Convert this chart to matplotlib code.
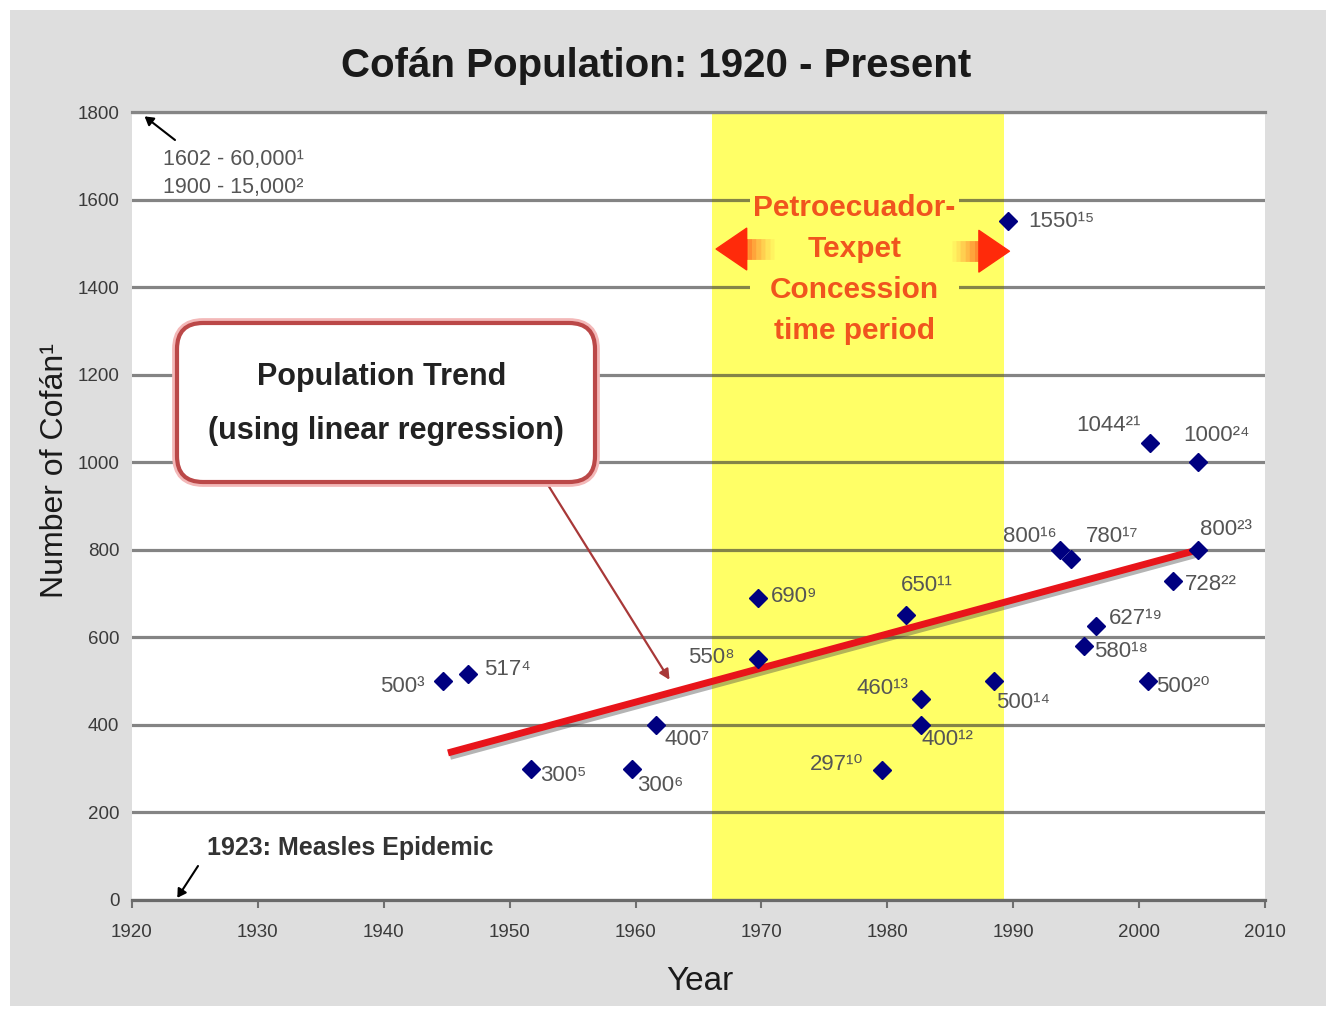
import matplotlib
matplotlib.use("Agg")
import matplotlib.pyplot as plt
from matplotlib.patches import Rectangle, FancyBboxPatch
from matplotlib import patheffects as pe
from matplotlib.transforms import IdentityTransform

plt.rcParams['font.family'] = ['Liberation Sans', 'DejaVu Sans']

# ---------------- data ----------------
ref_numbers = [3, 4, 5, 6, 7, 8, 9, 10, 11, 12, 13, 14, 15, 16, 17, 18, 19, 20, 21, 22, 23, 24]
years = [1944.7, 1946.7, 1951.7, 1959.7, 1961.6, 1969.7, 1969.7, 1979.6, 1981.5, 1982.7, 1982.7,
         1988.5, 1989.6, 1993.7, 1994.6, 1995.6, 1996.6, 2000.7, 2000.9, 2002.7, 2004.7, 2004.7]
population = [500, 517, 300, 300, 400, 550, 690, 297, 650, 400, 460,
              500, 1550, 800, 780, 580, 627, 500, 1044, 728, 800, 1000]
trend_years = [1945.1, 2004.7]
trend_values = [336, 800]
concession_start, concession_end = 1966.1, 1989.3
x_ticks = list(range(1920, 2011, 10))
y_ticks = list(range(0, 1801, 200))

# label placement (pixel offsets from the marker, alignment)
label_offsets = [(-18, -5, 'right'), (16, 4, 'left'), (9, -7, 'left'), (5, -17, 'left'),
                 (9, -15, 'left'), (-23, 2, 'right'), (13, 1, 'left'), (-19, 5, 'right'),
                 (-5, 30, 'left'), (0, -15, 'left'), (-13, 10, 'right'), (2, -21, 'left'),
                 (20, 0, 'left'), (-3, 13, 'right'), (15, 22, 'left'), (10, -5, 'left'),
                 (13, 7, 'left'), (8, -5, 'left'), (-10, 17, 'right'), (12, -3, 'left'),
                 (2, 20, 'left'), (-15, 27, 'left')]

SUP = str.maketrans("0123456789", "⁰¹²³⁴⁵⁶⁷⁸⁹")
def sup(n):
    return str(n).translate(SUP)

W, H = 1332, 1017
fig = plt.figure(figsize=(W / 100, H / 100), dpi=100)
fig.patch.set_facecolor('white')
PX = IdentityTransform()

# gray panel
fig.add_artist(Rectangle((10, 11), 1316, 996, transform=PX, facecolor='#dedede',
                         edgecolor='none', zorder=-10))

ax = fig.add_axes([132 / W, 1 - 900 / H, (1265 - 132) / W, (900 - 112) / H])
ax.set_facecolor('white')
ax.set_xlim(1920, 2010)
ax.set_ylim(0, 1800)

ax.axvspan(concession_start, concession_end, color='#ffff66', zorder=0.1, lw=0)

ax.set_axisbelow(True)
ax.yaxis.grid(True, color='#333333', alpha=0.6, lw=2.3)
ax.set_xticks(x_ticks)
ax.set_yticks(y_ticks)
ax.tick_params(axis='x', length=6, width=1.5, color='#707070', pad=11, labelsize=13.5,
               labelcolor='#3a3a3a')
ax.tick_params(axis='y', length=0, pad=9, labelsize=13.5, labelcolor='#3a3a3a')
for s in ['left', 'right']:
    ax.spines[s].set_visible(False)
ax.spines['bottom'].set_color('#6a6a6a')
ax.spines['bottom'].set_linewidth(2.3)
ax.spines['top'].set_color('#858585')
ax.spines['top'].set_linewidth(2.3)

# trend line with shadow
ax.plot(trend_years, trend_values, color='#e8141a', lw=5, solid_capstyle='butt', zorder=3,
        path_effects=[pe.SimpleLineShadow(offset=(1.5, -2.5), shadow_color='#444444', alpha=0.4),
                      pe.Normal()])

# data points
ax.plot(years, population, linestyle='none', marker='D', markersize=9.5,
        color='#000080', zorder=4)

for yr, val, ref, (dx, dy, ha) in zip(years, population, ref_numbers, label_offsets):
    ax.annotate(f"{val}{sup(ref)}", xy=(yr, val), xytext=(dx, dy), textcoords='offset pixels',
                ha=ha, va='center', fontsize=16, color='#555555', zorder=5)

# concession annotation
ax.text(1977.4, 1440, "Petroecuador-\nTexpet\nConcession\ntime period", ha='center',
        va='center', multialignment='center', fontsize=21.5, fontweight='bold',
        color='#f0541e', linespacing=1.6, zorder=4,
        bbox=dict(boxstyle='square,pad=0.1', fc='#ffff66', ec='none'))

# double-ended arrows with fading tails
def fading_arrow(tip_x, base_x, tail_x, y):
    ax.annotate('', xy=(tip_x, y), xytext=(base_x, y),
                arrowprops=dict(arrowstyle='simple,head_length=1.1,head_width=1.5,tail_width=0.8',
                                color='#ff2a0a', shrinkA=0, shrinkB=0, mutation_scale=20),
                zorder=5)
    n = 8
    for i in range(n):
        x0 = base_x + (tail_x - base_x) * i / n
        x1 = base_x + (tail_x - base_x) * (i + 1) / n
        ax.plot([x0, x1], [y, y], color='#ff3a0a', lw=15, alpha=0.85 * (1 - i / n) ** 1.3,
                solid_capstyle='butt', zorder=4.9)

fading_arrow(1966.4, 1968.2, 1971.0, 1487)
fading_arrow(1989.7, 1987.9, 1985.1, 1482)

# early population note
ax.annotate('', xy=(1921, 1790), xytext=(175, H - 140), textcoords='figure pixels',
            arrowprops=dict(arrowstyle='-|>,head_length=0.5,head_width=0.3', color='black',
                            lw=1.5, shrinkA=0, shrinkB=0), annotation_clip=False)
fig.text(163, H - 160, "1602 - 60,000" + sup(1), transform=PX, ha='left', va='center',
         fontsize=15.5, color='#555555')
fig.text(163, H - 188, "1900 - 15,000" + sup(2), transform=PX, ha='left', va='center',
         fontsize=15.5, color='#555555')

# measles note
ax.annotate('', xy=(1923.6, 5), xytext=(198, H - 866), textcoords='figure pixels',
            arrowprops=dict(arrowstyle='-|>,head_length=0.5,head_width=0.3', color='black',
                            lw=1.5, shrinkA=0, shrinkB=0), annotation_clip=False)
fig.text(207, H - 848, "1923: Measles Epidemic", transform=PX, ha='left', va='center',
         fontsize=18, fontweight='bold', color='#333333')

# callout box
ax.annotate('', xy=(1962.7, 503), xytext=(548, H - 485), textcoords='figure pixels',
            arrowprops=dict(arrowstyle='-|>,head_length=0.6,head_width=0.3', color='#a83838',
                            lw=1.6, shrinkA=0, shrinkB=0), zorder=6)
fig.add_artist(FancyBboxPatch((177, H - 482), 418, 159, boxstyle='round,pad=0,rounding_size=26',
                              transform=PX, fc='white', ec='#f3b8b8', lw=7, zorder=5))
fig.add_artist(FancyBboxPatch((177, H - 482), 418, 159, boxstyle='round,pad=0,rounding_size=26',
                              transform=PX, fc='white', ec='#bb4848', lw=3, zorder=5.1))
fig.text(382, H - 377, "Population Trend", transform=PX, ha='center', va='center',
         fontsize=22, fontweight='bold', color='#222222', zorder=6)
fig.text(386, H - 431, "(using linear regression)", transform=PX, ha='center', va='center',
         fontsize=22, fontweight='bold', color='#222222', zorder=6)

# titles
fig.text(656, H - 66, "Cofán Population: 1920 - Present", transform=PX, ha='center',
         va='center', fontsize=29, fontweight='bold', color='#1a1a1a')
fig.text(55, H - 470, "Number of Cofán" + sup(1), transform=PX, ha='center', va='center',
         rotation=90, fontsize=23, color='#1a1a1a')
fig.text(700, H - 982, "Year", transform=PX, ha='center', va='center', fontsize=24,
         color='#1a1a1a')

fig.savefig("out.png", dpi=100)
